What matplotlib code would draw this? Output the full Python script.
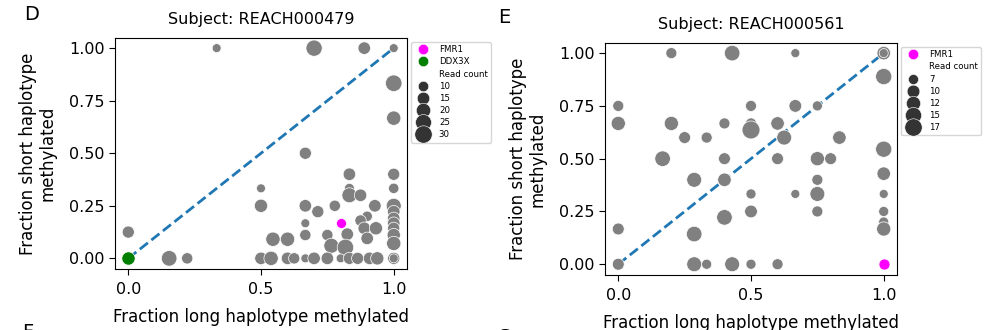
import numpy as np
import matplotlib
matplotlib.use("Agg")
import matplotlib.pyplot as plt
from matplotlib.lines import Line2D

# panel D: subject REACH000479
d_long = [0.333, 0.70, 0.889, 1.0, 1.0, 1.0, 0.667, 0.833, 1.0, 0.5, 0.833, 1.0,
          0.833, 0.875, 0.5, 0.667, 0.778, 0.929, 1.0, 0.714, 0.667, 0.9, 0.875,
          0.889, 0.933, 1.0, 1.0, 1.0, 1.0, 1.0, 1.0, 0.667, 0.75, 0.825, 0.9,
          0.765, 0.818, 0.545, 0.6, 0.0, 0.154, 0.222,
          0.5, 0.538, 0.6, 0.625, 0.667, 0.70, 0.75, 0.8, 0.833, 0.864, 0.909,
          0.938, 1.0, 1.0]
d_short = [1.0, 1.0, 1.0, 1.0, 0.833, 0.667, 0.5, 0.4, 0.4, 0.333, 0.333, 0.333,
           0.3, 0.3, 0.25, 0.25, 0.25, 0.25, 0.25, 0.222, 0.167, 0.2, 0.18,
           0.143, 0.143, 0.222, 0.19, 0.167, 0.143, 0.111, 0.071, 0.111, 0.111,
           0.115, 0.095, 0.06, 0.052, 0.091, 0.091, 0.125, 0.0, 0.0,
           0.0, 0.0, 0.0, 0.0, 0.0, 0.0, 0.0, 0.0, 0.0, 0.0, 0.0,
           0.0, 0.0, 0.0]
d_reads = [7, 26, 15, 7, 27, 20, 14, 15, 14, 7, 9, 10,
           22, 15, 17, 15, 12, 15, 22, 14, 7, 10, 12,
           15, 17, 15, 15, 15, 14, 17, 20, 12, 12,
           15, 15, 22, 27, 20, 20, 14, 24, 12,
           15, 20, 15, 12, 7, 15, 15, 7, 14, 14, 15,
           17, 14, 7]
d_fmr1 = (0.8, 0.167, 9)
d_ddx3x = (0.0, 0.0, 17)
d_legend = [10, 15, 20, 25, 30]

# panel E: subject REACH000561
e_long = [0.2, 0.429, 0.667, 1.0, 1.0, 1.0, 0.0, 0.0, 0.2, 0.25, 0.333, 0.4,
          0.5, 0.5, 0.5, 0.6, 0.625, 0.667, 0.75, 0.833, 0.167, 0.4, 0.6,
          0.75, 0.8, 1.0, 0.286, 0.4, 0.75, 1.0, 0.5, 0.667, 0.75, 1.0,
          0.5, 0.75, 1.0, 0.4, 1.0, 1.0, 0.0, 0.286, 0.0, 0.286, 0.333,
          0.429, 0.5, 0.6]
e_short = [1.0, 1.0, 1.0, 1.0, 1.0, 0.889, 0.75, 0.667, 0.667, 0.6, 0.6, 0.667,
           0.75, 0.667, 0.636, 0.667, 0.6, 0.75, 0.75, 0.6, 0.5, 0.5, 0.5,
           0.5, 0.5, 0.545, 0.4, 0.4, 0.4, 0.429, 0.333, 0.333, 0.333, 0.333,
           0.25, 0.25, 0.25, 0.222, 0.2, 0.167, 0.167, 0.143, 0.0, 0.0, 0.0,
           0.0, 0.0, 0.0]
e_reads = [8, 14, 6, 11, 6, 15, 8, 12, 12, 9, 8, 8,
           8, 8, 18, 11, 13, 10, 7, 11, 14, 9, 9,
           12, 9, 15, 13, 11, 8, 11, 7, 6, 13, 6,
           10, 8, 7, 14, 7, 12, 9, 14, 9, 13, 7,
           13, 7, 8]
e_fmr1 = (1.0, 0.0, 8)
e_legend = [7, 10, 12, 15, 17]

GREY = '#808080'
LEG_GREY = '#333333'


def panel(ax, xs, ys, reads, size_fn, highlights, legend_counts, title):
    ax.plot([0, 1], [0, 1], color='#1f77b4', linestyle='--', linewidth=2, zorder=1)
    ax.scatter(xs, ys, s=[size_fn(r) for r in reads], color=GREY,
               edgecolors='white', linewidths=0.5, zorder=2)
    handles = []
    labels = []
    for name, (hx, hy, hr), col in highlights:
        ax.scatter([hx], [hy], s=size_fn(hr), color=col, edgecolors='white',
                   linewidths=0.5, zorder=3)
        handles.append(Line2D([], [], linestyle='', marker='o', markersize=7.5,
                              markerfacecolor=col, markeredgecolor='white',
                              markeredgewidth=0.4))
        labels.append(name)
    handles.append(Line2D([], [], linestyle='', marker=''))
    labels.append('Read count')
    for c in legend_counts:
        handles.append(Line2D([], [], linestyle='', marker='o',
                              markersize=np.sqrt(size_fn(c)),
                              markerfacecolor=LEG_GREY, markeredgecolor='white',
                              markeredgewidth=0.4))
        labels.append(str(c))
    ax.legend(handles, labels, loc='upper left', bbox_to_anchor=(1.0, 1.0),
              fontsize=6.2, labelspacing=0.36, borderaxespad=0.5,
              handletextpad=0.8, edgecolor='#cccccc')

    ax.set_xlim(-0.05, 1.05)
    ax.set_ylim(-0.052, 1.05)
    ax.set_xticks([0.0, 0.5, 1.0])
    ax.set_xticklabels(['0.0', '0.5', '1.0'])
    ax.set_yticks([0.0, 0.25, 0.5, 0.75, 1.0])
    ax.set_yticklabels(['0.00', '0.25', '0.50', '0.75', '1.00'])
    ax.tick_params(labelsize=11.5, length=4.5)
    ax.tick_params(axis='x', pad=5)
    ax.tick_params(axis='y', pad=3)
    ax.set_title(title, fontsize=11.5, pad=10)
    ax.set_xlabel('Fraction long haplotype methylated', fontsize=12, labelpad=7.5)
    ax.set_ylabel('Fraction short haplotype\nmethylated', fontsize=12,
                  labelpad=9, linespacing=1.1)


fig = plt.figure(figsize=(10, 3.3), dpi=100)
ax1 = fig.add_axes([0.115, 0.184, 0.292, 0.702])
ax2 = fig.add_axes([0.605, 0.166, 0.292, 0.705])

panel(ax1, d_long, d_short, d_reads, lambda c: 1.25 * (45 + (c - 10) * 4.0),
      [('FMR1', d_fmr1, '#ff00ff'), ('DDX3X', d_ddx3x, '#008000')],
      d_legend, 'Subject: REACH000479')
panel(ax2, e_long, e_short, e_reads, lambda c: 1.25 * (42 + (c - 7) * 8.3),
      [('FMR1', e_fmr1, '#ff00ff')],
      e_legend, 'Subject: REACH000561')

fig.text(0.032, 0.955, 'D', fontsize=14, ha='center', va='center')
fig.text(0.504, 0.948, 'E', fontsize=14, ha='center', va='center')
fig.text(0.028, 0.02, 'F', fontsize=14, ha='center', va='top')
fig.text(0.504, 0.005, 'G', fontsize=14, ha='center', va='top')

fig.savefig('out.png', dpi=100, facecolor='white')
